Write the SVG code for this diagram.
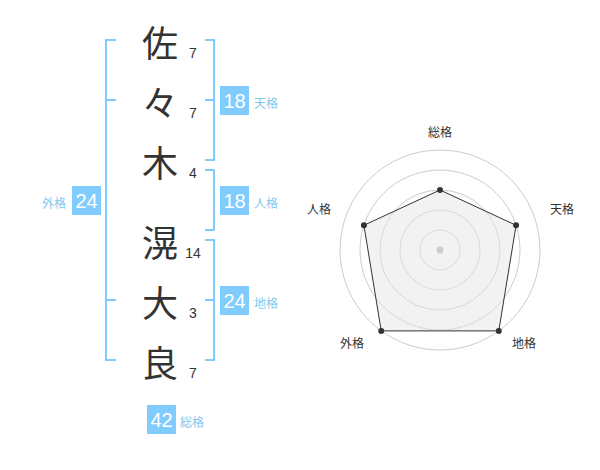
<svg xmlns="http://www.w3.org/2000/svg" width="600" height="470" viewBox="0 0 600 470">
<style>
.kanji{font-family:"Noto Sans CJK JP","Noto Sans CJK SC",sans-serif;font-size:36px;fill:#333;text-anchor:middle;dominant-baseline:central}
.num{font-family:"Liberation Sans",Arial,sans-serif;font-size:14px;fill:#333;text-anchor:middle}
.br{fill:none;stroke:#80ccff;stroke-width:2}
.box{fill:#80ccff}
.bn{font-family:"Liberation Sans",Arial,sans-serif;font-size:20px;fill:#fff;text-anchor:middle;dominant-baseline:central}
.lb{font-family:"Noto Sans CJK JP","Noto Sans CJK SC",sans-serif;font-size:12px;fill:#80c8f0;dominant-baseline:central}
.rl{font-family:"Noto Sans CJK JP","Noto Sans CJK SC",sans-serif;font-size:12px;fill:#333;text-anchor:middle;dominant-baseline:central}
.ring{fill:none;stroke:#ccc;stroke-width:1}
.pt{fill:#333}
</style>
<rect width="600" height="470" fill="#fff"/>
<g id="name">
<text class="kanji" x="160" y="41">佐</text>
<text class="kanji" x="160" y="101">々</text>
<text class="kanji" x="160" y="161">木</text>
<text class="kanji" x="160" y="241">滉</text>
<text class="kanji" x="160" y="301">大</text>
<text class="kanji" x="160" y="361">良</text>
<text class="num" x="193" y="58">7</text>
<text class="num" x="193" y="118">7</text>
<text class="num" x="193" y="178">4</text>
<text class="num" x="193" y="258">14</text>
<text class="num" x="193" y="318">3</text>
<text class="num" x="193" y="378">7</text>
</g>
<g id="connectors">
<path class="br" d="M116,40 H106 V360 H116 M106,100 H116 M106,300 H116"/>
<path class="br" d="M205,40 H214 V160 H205 M214,100 H205"/>
<path class="br" d="M205,170 H214 V230 H205"/>
<path class="br" d="M205,240 H214 V360 H205 M214,300 H205"/>
</g>
<g id="tenkaku">
<rect class="box" x="220" y="86" width="29" height="29"/>
<text class="bn" x="234.5" y="101">18</text>
<text class="lb" x="254" y="102">天格</text>
</g>
<g id="jinkaku">
<rect class="box" x="220" y="186" width="29" height="29"/>
<text class="bn" x="234.5" y="201">18</text>
<text class="lb" x="254" y="202">人格</text>
</g>
<g id="chikaku">
<rect class="box" x="220" y="286" width="29" height="29"/>
<text class="bn" x="234.5" y="301">24</text>
<text class="lb" x="254" y="302">地格</text>
</g>
<g id="gaikaku">
<rect class="box" x="72" y="186" width="29" height="29"/>
<text class="bn" x="86.5" y="201">24</text>
<text class="lb" x="66" y="202" text-anchor="end">外格</text>
</g>
<g id="soukaku">
<rect class="box" x="147" y="405" width="29" height="29"/>
<text class="bn" x="161.5" y="420">42</text>
<text class="lb" x="180" y="421">総格</text>
</g>
<g id="radar">
<circle class="ring" cx="440" cy="250" r="20"/>
<circle class="ring" cx="440" cy="250" r="40"/>
<circle class="ring" cx="440" cy="250" r="60"/>
<circle class="ring" cx="440" cy="250" r="80"/>
<circle class="ring" cx="440" cy="250" r="100"/>
<polygon points="440,190 516.08,225.28 498.78,330.9 381.22,330.9 363.92,225.28" fill="#e6e6e6" fill-opacity="0.5" stroke="#333" stroke-width="1"/>
<circle cx="440" cy="250" r="3.5" fill="#ccc"/>
<circle class="pt" cx="440" cy="190" r="3"/>
<circle class="pt" cx="516.08" cy="225.28" r="3"/>
<circle class="pt" cx="498.78" cy="330.9" r="3"/>
<circle class="pt" cx="381.22" cy="330.9" r="3"/>
<circle class="pt" cx="363.92" cy="225.28" r="3"/>
<text class="rl" x="440" y="131">総格</text>
<text class="rl" x="562" y="208">天格</text>
<text class="rl" x="524" y="342">地格</text>
<text class="rl" x="352" y="342">外格</text>
<text class="rl" x="319" y="208">人格</text>
</g>
</svg>
